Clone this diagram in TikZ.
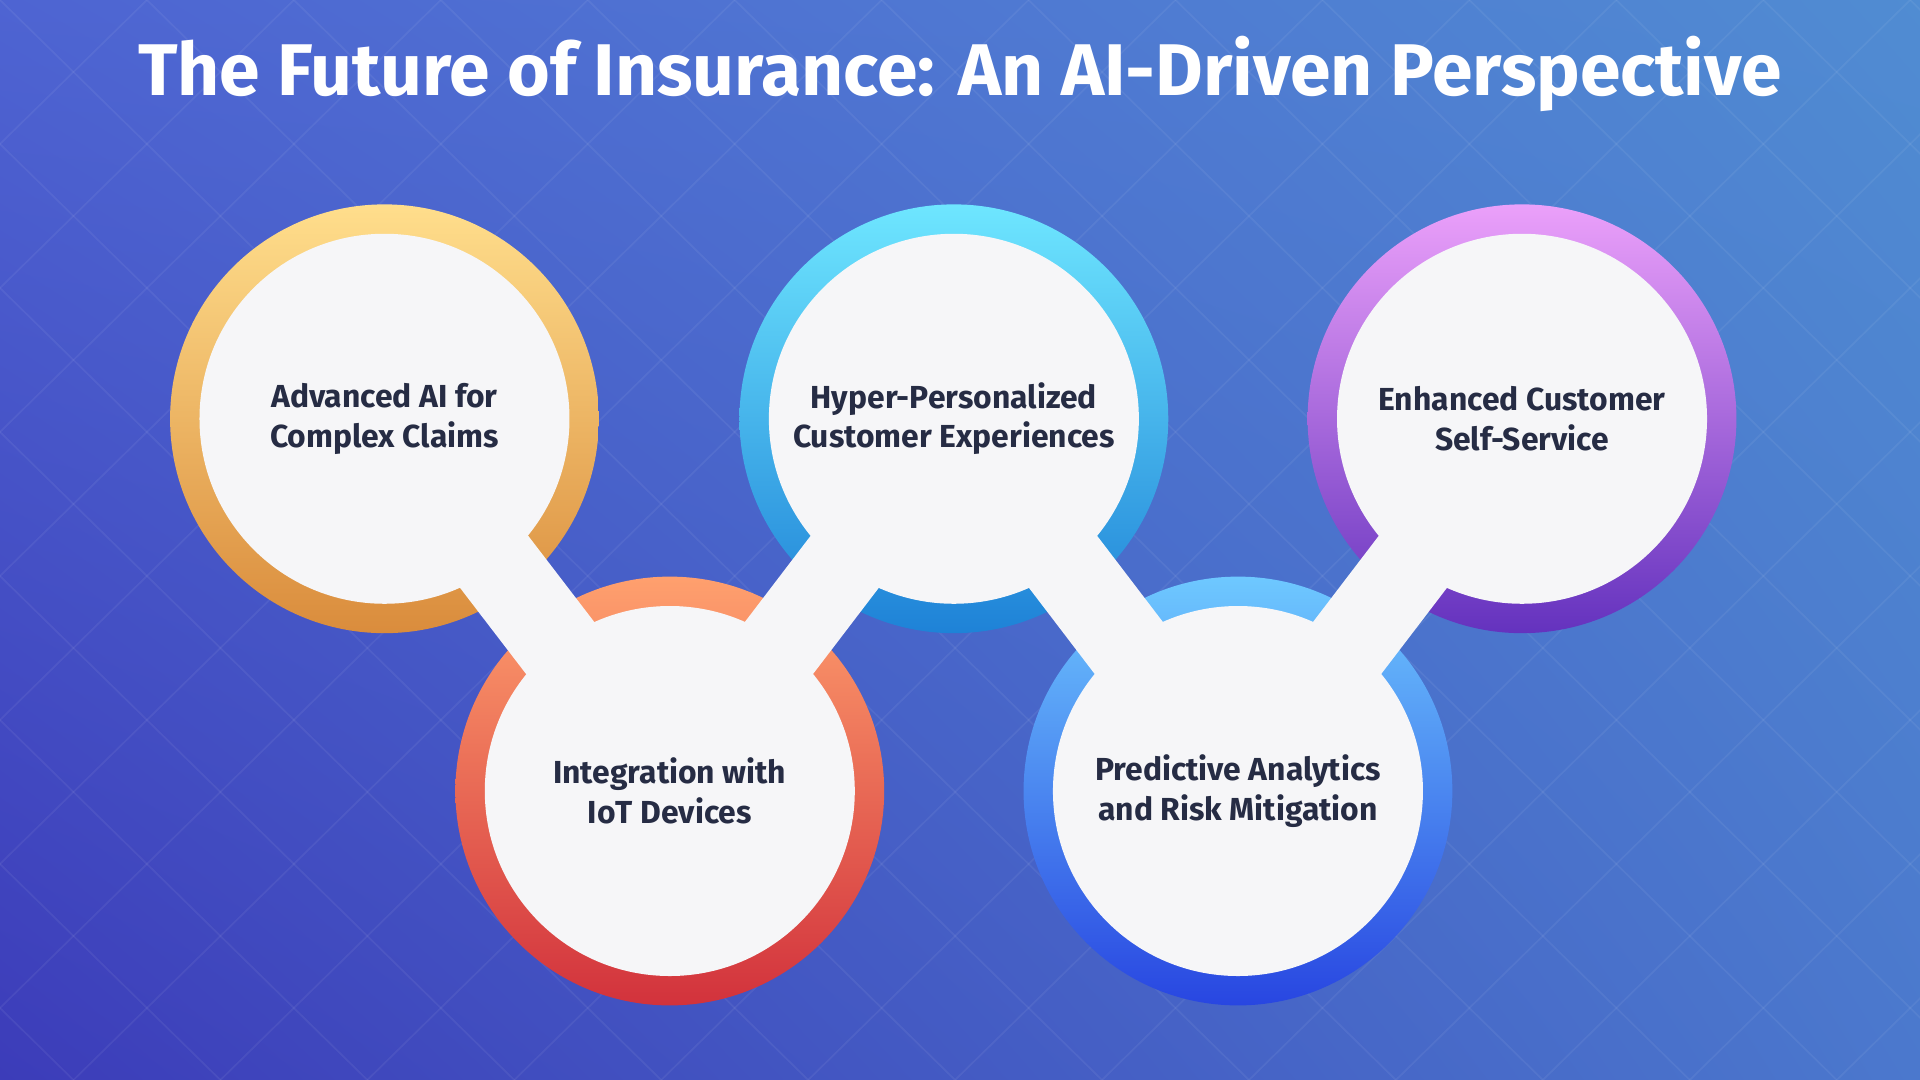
\documentclass[tikz,border=0pt]{standalone}
\usepackage{fontspec}
\setmainfont{Fira Sans}
\usetikzlibrary{shadings}
\definecolor{txt}{RGB}{38,44,68}
\definecolor{bgA}{RGB}{78,100,210}
\definecolor{bgB}{RGB}{80,140,210}
\definecolor{bgC}{RGB}{60,60,185}
\definecolor{bgD}{RGB}{75,120,205}
\definecolor{o1}{RGB}{255,222,140}\definecolor{o2}{RGB}{218,140,60}
\definecolor{rd1}{RGB}{255,160,110}\definecolor{rd2}{RGB}{210,50,60}
\definecolor{cy1}{RGB}{110,230,255}\definecolor{cy2}{RGB}{30,130,215}
\definecolor{bl1}{RGB}{110,200,255}\definecolor{bl2}{RGB}{40,70,225}
\definecolor{pu1}{RGB}{235,160,250}\definecolor{pu2}{RGB}{100,50,190}
\definecolor{wf}{RGB}{246,246,248}
\begin{document}
\begin{tikzpicture}[x=0.01cm,y=-0.01cm]
\tikzset{ring/.style={circle,minimum size=3.5cm,inner sep=0,shading angle=45},
 inner/.style={circle,fill=wf,minimum size=3.02cm,inner sep=0,align=center,font=\fontsize{7.4pt}{9.2pt}\selectfont\bfseries,text=txt},
 neck/.style={line width=0.7cm,color=wf}}
\useasboundingbox (0,0) rectangle (1568,882);
\shade[upper left=bgA,upper right=bgB,lower left=bgC,lower right=bgD] (0,0) rectangle (1568,882);
\foreach \i in {-10,...,20}{
 \draw[white,opacity=0.06] (\i*120,0) -- ++(900,882);
 \draw[white,opacity=0.06] (\i*120,0) -- ++(-900,882);}
\node[ring,top color=o1,bottom color=o2] (r1) at (314,342) {};
\node[ring,top color=rd1,bottom color=rd2] (r2) at (547,646) {};
\node[ring,top color=cy1,bottom color=cy2] (r3) at (779,342) {};
\node[ring,top color=bl1,bottom color=bl2] (r4) at (1011,646) {};
\node[ring,top color=pu1,bottom color=pu2] (r5) at (1243,342) {};
\draw[neck] (r1.center) -- (r2.center) -- (r3.center) -- (r4.center) -- (r5.center);
\node[inner] (c1) at (r1) {Advanced AI for\\Complex Claims};
\node[inner] (c2) at (r2) {Integration with\\IoT Devices};
\node[inner] (c3) at (r3) {Hyper-Personalized\\Customer Experiences};
\node[inner] (c4) at (r4) {Predictive Analytics\\and Risk Mitigation};
\node[inner] (c5) at (r5) {Enhanced Customer\\Self-Service};
\node[text=white,font=\fontsize{17pt}{20pt}\selectfont\bfseries] (title) at (784,60) {The Future of Insurance: An AI-Driven Perspective};
\end{tikzpicture}
\end{document}
